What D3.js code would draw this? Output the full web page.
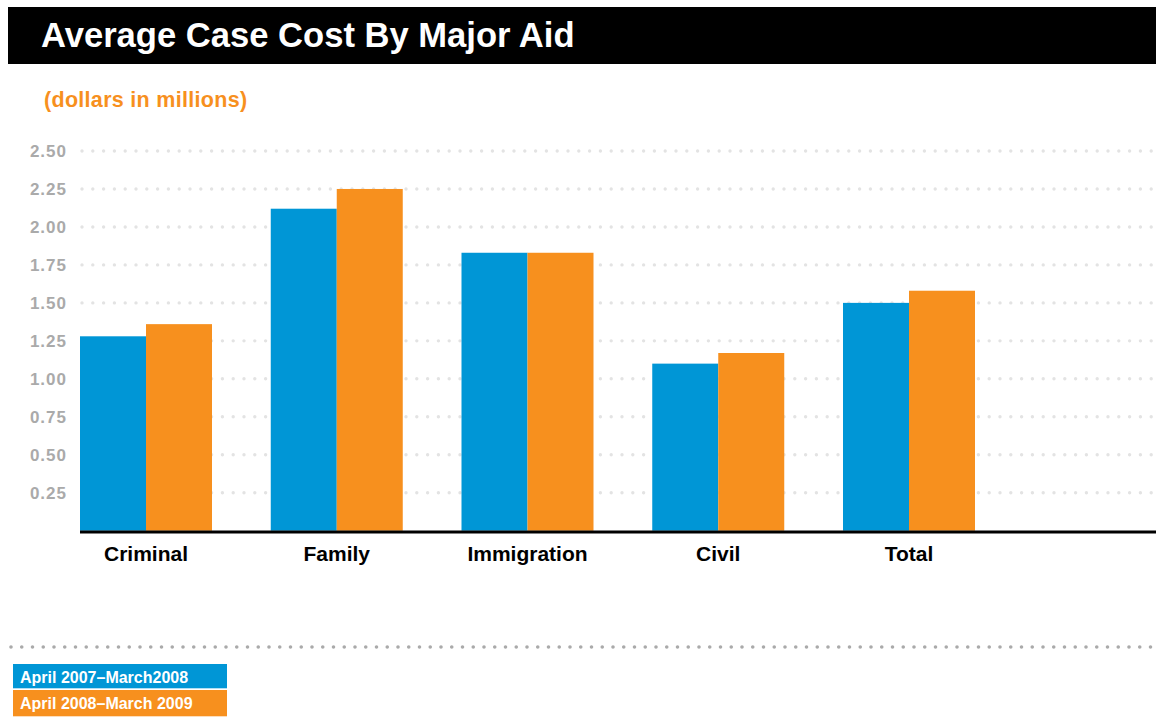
<!DOCTYPE html>
<html>
<head>
<meta charset="utf-8">
<script src="https://cdn.jsdelivr.net/npm/d3@7"></script>
<style>
  body { margin: 0; background: #fff; }
  svg { display: block; font-family: "Liberation Sans", Arial, Helvetica, sans-serif; }
</style>
</head>
<body>
<div id="chart"></div>
<script>
// chart values
var categories = ["Criminal", "Family", "Immigration", "Civil", "Total"];
var seriesNames = ["April 2007\u2013March2008", "April 2008\u2013March 2009"];
var values2008 = [1.28, 2.12, 1.83, 1.10, 1.50];
var values2009 = [1.36, 2.25, 1.83, 1.17, 1.58];
var yTicks = [0.25, 0.50, 0.75, 1.00, 1.25, 1.50, 1.75, 2.00, 2.25, 2.50];

var colors = ["#0096d6", "#f7901e"];

var width = 1156, height = 726;

var svg = d3.select("#chart").append("svg")
    .attr("width", width)
    .attr("height", height);

// title bar
svg.append("rect")
    .attr("x", 8).attr("y", 7)
    .attr("width", width - 8).attr("height", 57)
    .attr("fill", "#000");

svg.append("text")
    .attr("x", 41).attr("y", 47)
    .attr("fill", "#fff")
    .attr("font-size", 34.6)
    .attr("font-weight", "bold")
    .text("Average Case Cost By Major Aid");

svg.append("text")
    .attr("x", 44).attr("y", 107)
    .attr("fill", "#f7901e")
    .attr("font-size", 21.5)
    .attr("font-weight", "bold")
    .attr("letter-spacing", 0.3)
    .text("(dollars in millions)");

// scales
var x0 = d3.scaleBand()
    .domain(categories)
    .range([80, 975])
    .paddingInner(0.308)
    .paddingOuter(0);

var x1 = d3.scaleBand()
    .domain([0, 1])
    .range([0, x0.bandwidth()]);

var y = d3.scaleLinear()
    .domain([0, 2.5])
    .range([530.7, 151]);

// dotted gridlines
svg.append("g")
    .selectAll("line")
    .data(yTicks)
    .enter().append("line")
    .attr("x1", 82)
    .attr("x2", width)
    .attr("y1", function(d) { return y(d); })
    .attr("y2", function(d) { return y(d); })
    .attr("stroke", "#e3e3e3")
    .attr("stroke-width", 3.4)
    .attr("stroke-linecap", "round")
    .attr("stroke-dasharray", "0,10.8");

// y axis labels
var yAxis = svg.append("g")
    .attr("transform", "translate(67,0)")
    .call(d3.axisLeft(y).tickValues(yTicks).tickSize(0).tickPadding(0).tickFormat(d3.format(".2f")));
yAxis.select(".domain").remove();
yAxis.selectAll("text")
    .attr("fill", "#aaaaaa")
    .attr("font-size", 17)
    .attr("font-weight", "bold")
    .attr("letter-spacing", 1)
    .attr("font-family", "Liberation Sans, Arial, sans-serif");

// bars
var groups = svg.append("g")
    .selectAll("g")
    .data(categories)
    .enter().append("g")
    .attr("transform", function(d) { return "translate(" + x0(d) + ",0)"; });

groups.selectAll("rect")
    .data(function(d, i) { return [values2008[i], values2009[i]]; })
    .enter().append("rect")
    .attr("x", function(d, j) { return x1(j); })
    .attr("y", function(d) { return y(d); })
    .attr("width", x1.bandwidth())
    .attr("height", function(d) { return y(0) - y(d); })
    .attr("fill", function(d, j) { return colors[j]; });

// x axis
svg.append("line")
    .attr("x1", 80).attr("x2", width)
    .attr("y1", 532).attr("y2", 532)
    .attr("stroke", "#000")
    .attr("stroke-width", 3);

var xAxis = svg.append("g")
    .attr("transform", "translate(0,546)")
    .call(d3.axisBottom(x0).tickSize(0).tickPadding(0));
xAxis.select(".domain").remove();
xAxis.selectAll("text")
    .attr("fill", "#000")
    .attr("font-size", 21)
    .attr("font-weight", "bold")
    .attr("font-family", "Liberation Sans, Arial, sans-serif");

// separator
svg.append("line")
    .attr("x1", 11).attr("x2", width)
    .attr("y1", 647).attr("y2", 647)
    .attr("stroke", "#aaaaaa")
    .attr("stroke-width", 3.6)
    .attr("stroke-linecap", "round")
    .attr("stroke-dasharray", "0,10.75");

// legend
var legend = svg.append("g")
    .selectAll("g")
    .data(seriesNames)
    .enter().append("g")
    .attr("transform", function(d, i) { return "translate(13," + (664 + i * 25.7) + ")"; });

legend.append("rect")
    .attr("width", 214)
    .attr("height", function(d, i) { return i === 0 ? 24.3 : 26.3; })
    .attr("y", function(d, i) { return i === 0 ? 0 : 0.3; })
    .attr("fill", function(d, i) { return colors[i]; });

legend.append("text")
    .attr("x", 7)
    .attr("y", 19.3)
    .attr("fill", "#fff")
    .attr("font-size", 16)
    .attr("font-weight", "bold")
    .text(function(d) { return d; });
</script>
</body>
</html>
